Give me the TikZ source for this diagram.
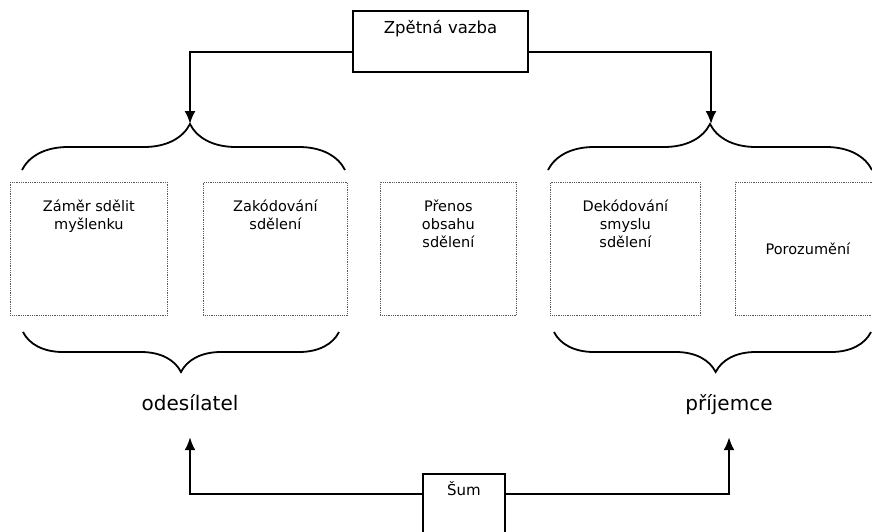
\documentclass[tikz,border=0pt]{standalone}
\usepackage{fontspec}
\setmainfont{DejaVu Sans}
\usetikzlibrary{arrows.meta,decorations.pathreplacing}

\def\boxfont{\fontsize{14.5}{18}\selectfont}
\def\stagebox#1#2#3{\parbox[t][133pt][#1]{#2}{\centering\boxfont #3}}
\def\stagetop#1#2{\stagebox{t}{#1}{\vspace*{17pt}#2}}

\begin{document}
\begin{tikzpicture}[x=1pt,y=-1pt,
    stage/.style={draw=black!65,densely dotted,line width=0.8pt,inner sep=0pt,anchor=north west},
    thickbox/.style={draw,line width=2pt,inner sep=0pt,anchor=north west},
    flow/.style={line width=2pt,-{Latex[length=13pt,width=11pt]}},
    curly/.style={line width=1.8pt,decorate,decoration={brace,amplitude=#1}},
    party/.style={font=\fontsize{20}{24}\selectfont,inner sep=0pt,text height=15pt,text depth=5pt},
  ]
  \useasboundingbox (0,0) rectangle (872,531);
  \clip (0,0) rectangle (872,531);

  % Zpetna vazba
  \node[thickbox] (zpet) at (352,10)
    {\parbox[t][61pt][t]{175pt}{\centering\vspace*{9pt}\fontsize{16.5}{20}\selectfont Zpětná vazba}};

  % kroky
  \node[stage] (zamer) at (10,182) {\stagetop{157pt}{Záměr sdělit\\myšlenku}};
  \node[stage] (kodovani) at (203,182) {\stagetop{144pt}{Zakódování\\sdělení}};
  \node[stage] (prenos) at (380,182) {\stagetop{136pt}{Přenos\\obsahu\\sdělení}};
  \node[stage] (dekodovani) at (550,182) {\stagetop{150pt}{Dekódování\\smyslu\\sdělení}};
  \node[stage] (porozumeni) at (735,182) {\stagebox{c}{145pt}{Porozumění}};

  % zavorky
  \draw[curly=46pt,decoration={aspect=0.52}] (22,170) -- (345,170);
  \draw[curly=46pt,decoration={aspect=0.5}] (548,170) -- (872,170);
  \draw[curly=40pt,decoration={aspect=0.5}] (339,332) -- (23,332);
  \draw[curly=40pt,decoration={aspect=0.49}] (871,332) -- (554,332);
  \coordinate (tipL) at (190,124);
  \coordinate (tipR) at (711,124);

  % odesilatel a prijemce
  \node[party] (odes) at (190,405) {odesílatel};
  \node[party] (prij) at (729,405) {příjemce};

  % sum
  \node[thickbox] (sum) at (422,473)
    {\parbox[t][90pt][t]{82pt}{\centering\vspace*{8pt}\fontsize{15}{18}\selectfont Šum}};

  % sipky
  \draw[flow] ([yshift=-10.5pt]zpet.west) -| (tipL);
  \draw[flow] ([yshift=-10.5pt]zpet.east) -| (tipR);
  \draw[flow,shorten >=22pt] ([yshift=25pt]sum.west) -| (odes.south);
  \draw[flow,shorten >=22pt] ([yshift=25pt]sum.east) -| (prij.south);
\end{tikzpicture}
\end{document}
